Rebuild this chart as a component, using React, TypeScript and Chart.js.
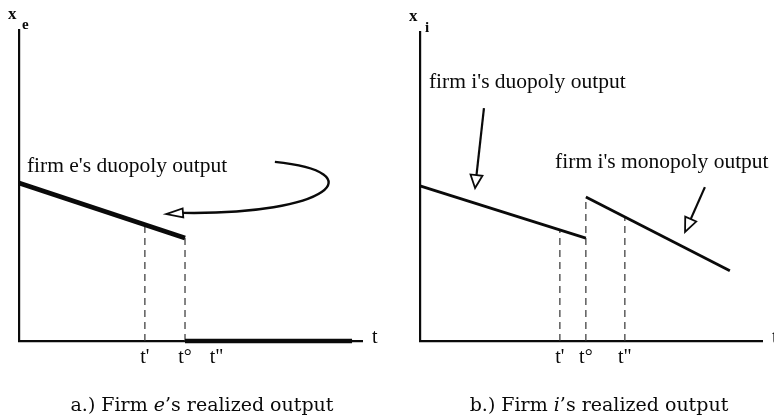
import React, { useEffect, useRef } from "react";
import { Chart, registerables } from "chart.js";

Chart.register(...registerables);

// ---------- Data (abstract units: t on 0..100, output on 0..100) ----------
const tickLabels = ["t'", "t°", 't"'];

// Panel a: firm e
const eDuopolyT = [0, 48.4];
const eDuopolyX = [50.8, 33.1];
const eExitT = [48.4, 97.1];
const eExitX = [0, 0];
const eTickPos = [36.7, 48.4, 57.6];
const eDashTop = [37.4, 33.1];
const eLabelPos = [2.3, 54.3];
const eCurveT = [74.6, 103.8, 90.7, 47.8];
const eCurveX = [57.6, 54.3, 40.5, 41.2];
const eArrowTip = [42.9, 40.8];

// Panel b: firm i
const iDuopolyT = [0, 48.5];
const iDuopolyX = [50.2, 33.3];
const iMonoT = [48.5, 90.6];
const iMonoX = [46.6, 22.7];
const iTickPos = [40.9, 48.5, 59.9];
const iDashTop = [36.0, 46.6, 40.1];
const iDuoLabelPos = [2.6, 81.9];
const iDuoArrowT = [18.7, 16.1];
const iDuoArrowX = [75.4, 49.5];
const iMonoLabelPos = [39.5, 56.0];
const iMonoArrowT = [83.3, 77.5];
const iMonoArrowX = [49.8, 35.3];

const INK = "#0a0a0a";

function seg(ts: number[], xs: number[], width: number, dash: number[] = [], color = INK) {
  return {
    data: ts.map((t, i) => ({ x: t, y: xs[i] })),
    showLine: true,
    borderColor: color,
    backgroundColor: color,
    borderWidth: width,
    borderDash: dash,
    borderCapStyle: "butt",
    pointRadius: 0,
    tension: 0,
    clip: false,
  } as any;
}

function drawHead(ctx: CanvasRenderingContext2D, bx: number, by: number, tx: number, ty: number, w: number) {
  const dx = tx - bx, dy = ty - by;
  const L = Math.hypot(dx, dy) || 1;
  const nx = -dy / L, ny = dx / L;
  ctx.beginPath();
  ctx.moveTo(tx, ty);
  ctx.lineTo(bx + nx * w / 2, by + ny * w / 2);
  ctx.lineTo(bx - nx * w / 2, by - ny * w / 2);
  ctx.closePath();
  ctx.fillStyle = "#fff";
  ctx.fill();
  ctx.lineWidth = 1.8;
  ctx.strokeStyle = INK;
  ctx.stroke();
}

function straightArrow(ctx: CanvasRenderingContext2D, sx: number, sy: number, tx: number, ty: number, len: number, w: number) {
  const dx = tx - sx, dy = ty - sy;
  const L = Math.hypot(dx, dy) || 1;
  const bx = tx - (dx / L) * len, by = ty - (dy / L) * len;
  ctx.beginPath();
  ctx.moveTo(sx, sy);
  ctx.lineTo(bx, by);
  ctx.lineWidth = 2.2;
  ctx.strokeStyle = INK;
  ctx.stroke();
  drawHead(ctx, bx, by, tx, ty, w);
}

const annotFont = '21.5px "Liberation Serif"';

function axisLabels(ctx: CanvasRenderingContext2D, area: any, sub: string, subDx: number, subDy: number) {
  ctx.fillStyle = INK;
  ctx.textBaseline = "alphabetic";
  ctx.textAlign = "left";
  ctx.font = 'bold 17px "Liberation Serif"';
  ctx.fillText("x", area.left - 11, area.top - 11);
  ctx.font = 'bold 15px "Liberation Serif"';
  ctx.fillText(sub, area.left + subDx, area.top + subDy);
  ctx.font = '20px "Liberation Serif"';
  ctx.fillText("t", area.right + 10, area.bottom + 2);
}

const annotE = {
  id: "annotE",
  afterDatasetsDraw(chart: any) {
    const { ctx, chartArea, scales } = chart;
    const px = (v: number) => scales.x.getPixelForValue(v);
    const py = (v: number) => scales.y.getPixelForValue(v);
    ctx.save();
    axisLabels(ctx, chartArea, "e", 3, -1);
    ctx.font = annotFont;
    ctx.fillStyle = INK;
    ctx.fillText("firm e's duopoly output", px(eLabelPos[0]), py(eLabelPos[1]));
    ctx.beginPath();
    ctx.moveTo(px(eCurveT[0]), py(eCurveX[0]));
    ctx.bezierCurveTo(
      px(eCurveT[1]), py(eCurveX[1]),
      px(eCurveT[2]), py(eCurveX[2]),
      px(eCurveT[3]), py(eCurveX[3])
    );
    ctx.lineWidth = 2.4;
    ctx.strokeStyle = INK;
    ctx.stroke();
    drawHead(ctx, px(eCurveT[3]), py(eCurveX[3]), px(eArrowTip[0]), py(eArrowTip[1]), 9);
    ctx.restore();
  },
};

const annotI = {
  id: "annotI",
  afterDatasetsDraw(chart: any) {
    const { ctx, chartArea, scales } = chart;
    const px = (v: number) => scales.x.getPixelForValue(v);
    const py = (v: number) => scales.y.getPixelForValue(v);
    ctx.save();
    axisLabels(ctx, chartArea, "i", 5, 0);
    ctx.font = annotFont;
    ctx.fillStyle = INK;
    ctx.fillText("firm i's duopoly output", px(iDuoLabelPos[0]), py(iDuoLabelPos[1]));
    ctx.fillText("firm i's monopoly output", px(iMonoLabelPos[0]), py(iMonoLabelPos[1]));
    straightArrow(ctx, px(iDuoArrowT[0]), py(iDuoArrowX[0]), px(iDuoArrowT[1]), py(iDuoArrowX[1]), 13, 12);
    straightArrow(ctx, px(iMonoArrowT[0]), py(iMonoArrowX[0]), px(iMonoArrowT[1]), py(iMonoArrowX[1]), 14, 12);
    ctx.restore();
  },
};

function Panel(props: { left: number; datasets: any[]; tickPos: number[]; padding: any; annot: any }) {
  const ref = useRef<HTMLCanvasElement>(null);
  useEffect(() => {
    const { datasets, tickPos, padding, annot } = props;
    const chart = new Chart(ref.current as HTMLCanvasElement, {
      type: "scatter",
      data: { datasets },
      options: {
        responsive: false,
        animation: false,
        events: [],
        layout: { padding },
        plugins: { legend: { display: false }, tooltip: { enabled: false } },
        scales: {
          x: {
            type: "linear",
            min: 0,
            max: 100,
            grid: { display: false, drawTicks: false },
            border: { display: true, color: INK, width: 2.2 },
            afterBuildTicks: (ax: any) => {
              ax.ticks = tickPos.map((v) => ({ value: v }));
            },
            afterFit: (ax: any) => {
              ax.height = 40;
            },
            ticks: {
              autoSkip: false,
              maxRotation: 0,
              minRotation: 0,
              padding: 5,
              color: INK,
              font: { family: '"Liberation Serif"', size: 20 },
              callback: (_v: any, i: number) => tickLabels[i],
            },
          },
          y: {
            type: "linear",
            min: 0,
            max: 100,
            grid: { display: false, drawTicks: false },
            border: { display: true, color: INK, width: 2.2 },
            ticks: { display: false },
            afterFit: (ax: any) => {
              ax.width = 0;
            },
          },
        },
      } as any,
      plugins: [annot],
    });
    return () => chart.destroy();
  }, []);
  return (
    <canvas
      ref={ref}
      width={387}
      height={420}
      style={{ position: "absolute", left: props.left, top: 0, width: 387, height: 420 }}
    />
  );
}

const DASH = [7, 5];
const DASH_COLOR = "#333";

const eDatasets = [
  seg(eDuopolyT, eDuopolyX, 4.8),
  seg(eExitT, eExitX, 4.5),
  ...eDashTop.map((top, i) => seg([eTickPos[i], eTickPos[i]], [0, top], 1.2, DASH, DASH_COLOR)),
];

const iDatasets = [
  seg(iDuopolyT, iDuopolyX, 2.8),
  seg(iMonoT, iMonoX, 2.8),
  ...iDashTop.map((top, i) => seg([iTickPos[i], iTickPos[i]], [0, top], 1.2, DASH, DASH_COLOR)),
];

const captionStyle: React.CSSProperties = {
  position: "absolute",
  top: 394,
  transform: "translateX(-50%)",
  whiteSpace: "nowrap",
  fontFamily: '"DejaVu Serif", serif',
  fontSize: 19,
  lineHeight: "20px",
  color: INK,
};

export default function App() {
  return (
    <div
      style={{
        position: "absolute",
        left: 0,
        top: 0,
        width: 774,
        height: 420,
        overflow: "hidden",
        background: "#fff",
      }}
    >
      <Panel left={0} datasets={eDatasets} tickPos={eTickPos} padding={{ left: 19, right: 25, top: 30, bottom: 39 }} annot={annotE} />
      <Panel left={387} datasets={iDatasets} tickPos={iTickPos} padding={{ left: 33, right: 12, top: 32, bottom: 39 }} annot={annotI} />
      <div style={{ ...captionStyle, left: 202 }}>
        a.) Firm <i>e</i>’s realized output
      </div>
      <div style={{ ...captionStyle, left: 599 }}>
        b.) Firm <i>i</i>’s realized output
      </div>
    </div>
  );
}
